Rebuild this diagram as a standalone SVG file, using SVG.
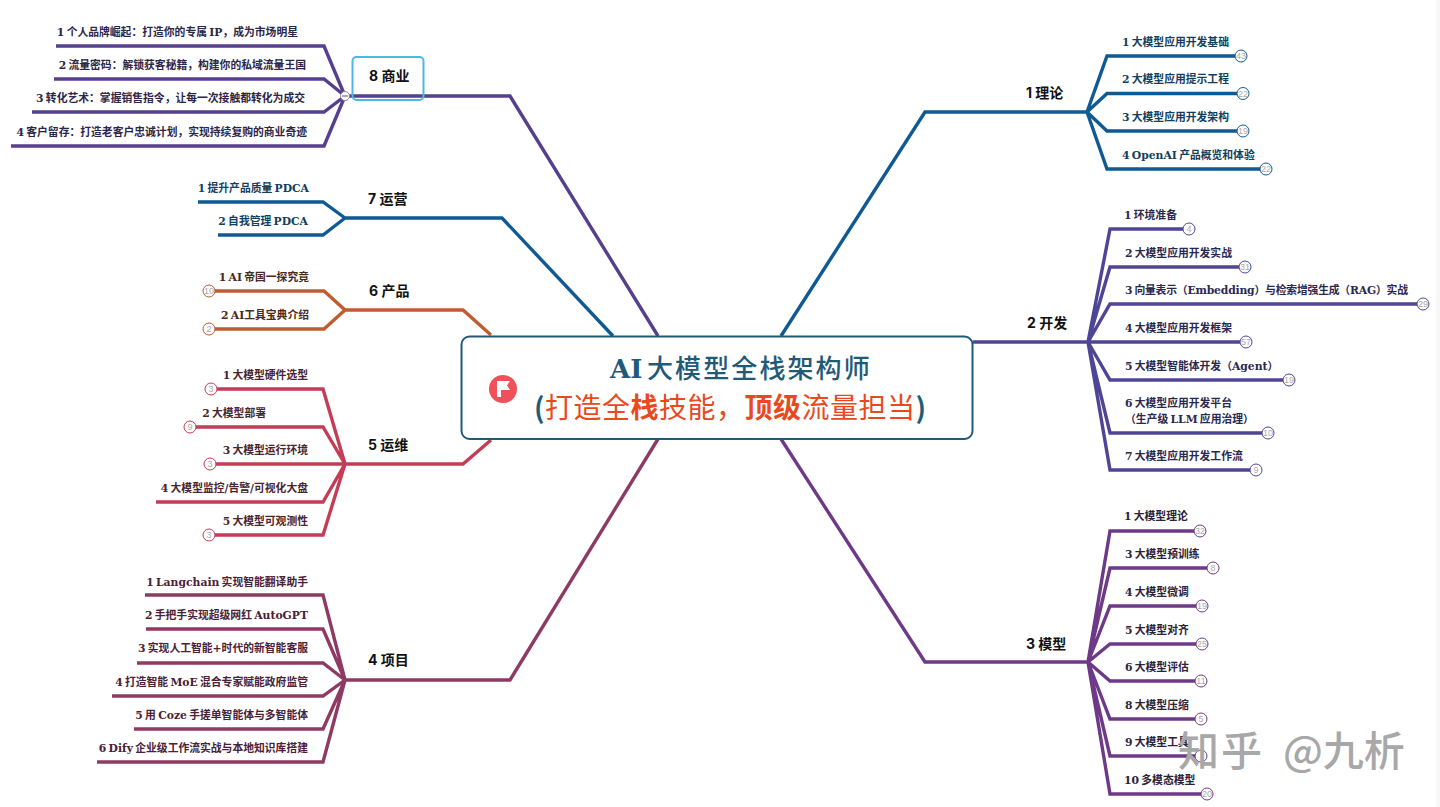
<svg xmlns="http://www.w3.org/2000/svg" width="1440" height="807" viewBox="0 0 1440 807">
<style>
.l{fill:none;stroke-width:3.400;stroke-linejoin:miter}
.c1,.c7{stroke:#0f5a94}.c2{stroke:#4f4596}.c3{stroke:#6e3a88}.c4{stroke:#8e3a62}.c5{stroke:#c23d55}.c6{stroke:#c05c30}.c8{stroke:#553f8e}
text{font-family:"DejaVu Serif","Noto Sans CJK SC",sans-serif}
.t{font-size:10.800px;font-weight:700;word-spacing:-1.500px}
.e{text-anchor:end}
.h{font-family:"Inter","Noto Sans CJK SC",sans-serif;font-size:14px;font-weight:700;fill:#111}
.b{fill:#fff;stroke-width:1}
.n{font-family:"Liberation Sans",sans-serif;font-size:9px;text-anchor:middle;fill:#aaa}
.d1,.d7{fill:#123f5e}.d2{fill:#2b2850}.d3{fill:#2d2338}.d4{fill:#4a2136}.d5{fill:#4a2530}.d6{fill:#4a2a20}.d8{fill:#2c2648}
</style>
<rect width="1440" height="807" fill="#fff"/>
<rect x="1436" width="4" height="807" fill="#f7f7f7"/>
<g id="connectors">
<path class="l c1" d="M781 336L925 112H1087M1087 112L1107 56H1242M1087 112L1107 93.500H1243M1087 112L1107 131H1243M1087 112L1107 169H1266"/>
<path class="l c2" d="M973 342H1088M1088 342L1110 229H1189M1088 342L1110 267H1245M1088 342L1110 304H1423M1088 342H1246M1088 342L1110 380H1289M1088 342L1110 433H1268M1088 342L1110 470H1256"/>
<path class="l c3" d="M781 439L925 662H1088M1088 662L1110 531H1200M1088 662L1110 568H1213M1088 662L1110 606H1202M1088 662L1110 644H1202M1088 662L1110 681H1201M1088 662L1110 719H1201M1088 662L1110 756H1201M1088 662L1110 794H1207"/>
<path class="l c4" d="M658 439L510 680H345M345 680L323 595H145M345 680L323 629H146M345 680L323 663H137M345 680L323 696H112M345 680L323 729H134M345 680L323 762H97"/>
<path class="l c5" d="M491 440L463 464H345M345 464L323 389H211M345 464L323 427H190M345 464H210M345 464L323 502H156M345 464L323 535H209"/>
<path class="l c6" d="M491 335L463 310H345M345 310L324 291H209M345 310L324 329H209"/>
<path class="l c7" d="M613 336L502 218H345M345 218L323 202H198M345 218L323 235H218"/>
<path class="l c8" d="M658 336L510 96H345M345 96L324 46H56M345 96L324 79H54M345 96L324 112H32M345 96L324 146H11"/>
</g>
<g id="center">
<rect x="461.500" y="336.500" width="511" height="102.500" rx="8" fill="#fff" stroke="#1f5a78" stroke-width="2"/>
<circle cx="503" cy="389" r="14" fill="#f0505a"/>
<path d="M497 381H510L507 385.500L510 390H501V397H497Z" fill="#fff"/>
<text y="378" font-size="26" fill="#1f5a78"><tspan x="610" font-weight="700">AI</tspan><tspan x="647" letter-spacing="2.100" font-weight="500" style="font-family:'Noto Sans CJK SC',sans-serif">大模型全栈架构师</tspan></text>
<text y="418" font-size="28" letter-spacing="0.500" style="font-family:'Noto Sans CJK SC',sans-serif" fill="#e8491d"><tspan x="534" font-weight="700" fill="#1f5a78">(</tspan><tspan x="545">打造全</tspan><tspan font-weight="700">栈</tspan><tspan>技能，</tspan><tspan font-weight="700">顶级</tspan><tspan>流量担当</tspan><tspan font-weight="700" fill="#1f5a78">)</tspan></text>
</g>
<g id="n1"><text class="h" x="1026" y="98">1 理论</text>
<text class="t d1" x="1122" y="46">1 大模型应用开发基础</text><circle class="b c1" cx="1241" cy="56" r="6"/><text class="n" x="1241" y="59">43</text>
<text class="t d1" x="1122" y="83">2 大模型应用提示工程</text><circle class="b c1" cx="1243" cy="93.500" r="6"/><text class="n" x="1243" y="96.500">22</text>
<text class="t d1" x="1122" y="121">3 大模型应用开发架构</text><circle class="b c1" cx="1243" cy="131" r="6"/><text class="n" x="1243" y="134">19</text>
<text class="t d1" x="1122" y="159">4 OpenAI 产品概览和体验</text><circle class="b c1" cx="1266" cy="169" r="6"/><text class="n" x="1266" y="172">22</text></g>
<g id="n2"><text class="h" x="1027" y="328">2 开发</text>
<text class="t d2" x="1124" y="219">1 环境准备</text><circle class="b c2" cx="1189" cy="229" r="6"/><text class="n" x="1189" y="232">4</text>
<text class="t d2" x="1125" y="257">2 大模型应用开发实战</text><circle class="b c2" cx="1245" cy="267" r="6"/><text class="n" x="1245" y="270">31</text>
<text class="t d2" x="1125" y="294" textLength="283" lengthAdjust="spacing">3 向量表示（Embedding）与检索增强生成（RAG）实战</text><circle class="b c2" cx="1423" cy="304" r="6"/><text class="n" x="1423" y="307">29</text>
<text class="t d2" x="1125" y="332">4 大模型应用开发框架</text><circle class="b c2" cx="1246" cy="342" r="6"/><text class="n" x="1246" y="345">57</text>
<text class="t d2" x="1125" y="370">5 大模型智能体开发（Agent）</text><circle class="b c2" cx="1289" cy="380" r="6"/><text class="n" x="1289" y="383">19</text>
<text class="t d2" x="1125" y="407">6 大模型应用开发平台</text><text class="t d2" x="1125" y="423">（生产级 LLM 应用治理）</text><circle class="b c2" cx="1268" cy="433" r="6"/><text class="n" x="1268" y="436">10</text>
<text class="t d2" x="1125" y="460">7 大模型应用开发工作流</text><circle class="b c2" cx="1256" cy="470" r="6"/><text class="n" x="1256" y="473">9</text></g>
<g id="n3"><text class="h" x="1026" y="649">3 模型</text>
<text class="t d3" x="1124" y="520">1 大模型理论</text><circle class="b c3" cx="1200" cy="531" r="6"/><text class="n" x="1200" y="534">32</text>
<text class="t d3" x="1125" y="558">3 大模型预训练</text><circle class="b c3" cx="1213" cy="568" r="6"/><text class="n" x="1213" y="571">8</text>
<text class="t d3" x="1125" y="596">4 大模型微调</text><circle class="b c3" cx="1202" cy="606" r="6"/><text class="n" x="1202" y="609">19</text>
<text class="t d3" x="1125" y="634">5 大模型对齐</text><circle class="b c3" cx="1202" cy="644" r="6"/><text class="n" x="1202" y="647">25</text>
<text class="t d3" x="1125" y="671">6 大模型评估</text><circle class="b c3" cx="1201" cy="681" r="6"/><text class="n" x="1201" y="684">11</text>
<text class="t d3" x="1125" y="709">8 大模型压缩</text><circle class="b c3" cx="1201" cy="719" r="6"/><text class="n" x="1201" y="722">5</text>
<text class="t d3" x="1125" y="746">9 大模型工具</text><circle class="b c3" cx="1201" cy="756" r="6"/>
<text class="t d3" x="1124" y="784">10 多模态模型</text><circle class="b c3" cx="1207" cy="794" r="6"/><text class="n" x="1207" y="797">20</text></g>
<g id="n4"><text class="h" x="368" y="665">4 项目</text>
<text class="t d4 e" x="308" y="586">1 Langchain 实现智能翻译助手</text>
<text class="t d4 e" x="308" y="619">2 手把手实现超级网红 AutoGPT</text>
<text class="t d4 e" x="308" y="652">3 实现人工智能+时代的新智能客服</text>
<text class="t d4 e" x="308" y="686">4 打造智能 MoE 混合专家赋能政府监管</text>
<text class="t d4 e" x="308" y="719">5 用 Coze 手搓单智能体与多智能体</text>
<text class="t d4 e" x="308" y="752">6 Dify 企业级工作流实战与本地知识库搭建</text></g>
<g id="n5"><text class="h" x="368" y="450">5 运维</text>
<text class="t d5 e" x="308" y="379">1 大模型硬件选型</text><circle class="b c5" cx="211" cy="389" r="6"/><text class="n" x="211" y="392">3</text>
<text class="t d5 e" x="266" y="417">2 大模型部署</text><circle class="b c5" cx="190" cy="427" r="6"/><text class="n" x="190" y="430">9</text>
<text class="t d5 e" x="308" y="454">3 大模型运行环境</text><circle class="b c5" cx="210" cy="464" r="6"/><text class="n" x="210" y="467">3</text>
<text class="t d5 e" x="308" y="492">4 大模型监控/告警/可视化大盘</text>
<text class="t d5 e" x="308" y="525">5 大模型可观测性</text><circle class="b c5" cx="209" cy="535" r="6"/><text class="n" x="209" y="538">3</text></g>
<g id="n6"><text class="h" x="369" y="296">6 产品</text>
<text class="t d6 e" x="309" y="281">1 AI 帝国一探究竟</text><circle class="b c6" cx="209" cy="291" r="6"/><text class="n" x="209" y="294">10</text>
<text class="t d6 e" x="309" y="319">2 AI工具宝典介绍</text><circle class="b c6" cx="209" cy="329" r="6"/><text class="n" x="209" y="332">2</text></g>
<g id="n7"><text class="h" x="368" y="204">7 运营</text>
<text class="t d7 e" x="309" y="192">1 提升产品质量 PDCA</text>
<text class="t d7 e" x="308" y="225">2 自我管理 PDCA</text></g>
<g id="n8"><rect x="352.500" y="57" width="71" height="43" rx="4" fill="none" stroke="#4db8e8" stroke-width="2"/>
<text class="h" x="369" y="81">8 商业</text>
<circle cx="345" cy="96" r="4.500" fill="#fff" stroke="#8a86a8"/><path d="M342 96H348" stroke="#555" stroke-width="1"/>
<text class="t d8 e" x="298" y="36">1 个人品牌崛起：打造你的专属 IP，成为市场明星</text>
<text class="t d8 e" x="306" y="69">2 流量密码：解锁获客秘籍，构建你的私域流量王国</text>
<text class="t d8 e" x="305" y="102">3 转化艺术：掌握销售指令，让每一次接触都转化为成交</text>
<text class="t d8 e" x="307" y="136">4 客户留存：打造老客户忠诚计划，实现持续复购的商业奇迹</text></g>
<text y="766" font-size="41" font-weight="500" fill="#a8a8a8" style="font-family:'Noto Sans CJK SC',sans-serif"><tspan x="1178" letter-spacing="2">知乎</tspan><tspan x="1283">@九析</tspan></text>
</svg>
